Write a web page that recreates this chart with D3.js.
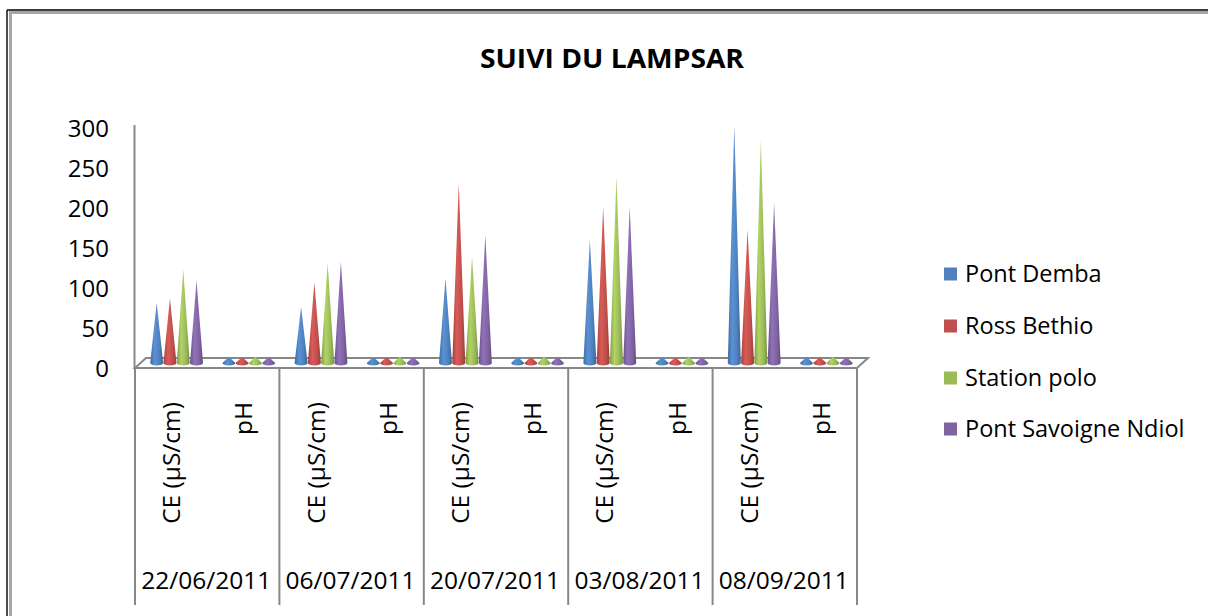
<!DOCTYPE html>
<html>
<head>
<meta charset="utf-8">
<script src="https://cdn.jsdelivr.net/npm/d3@7"></script>
<style>
  html, body { margin: 0; padding: 0; background: #fff; }
  svg { display: block; }
  text { font-family: "Open Sans", "Noto Sans", sans-serif; fill: #000; }
</style>
</head>
<body>
<svg id="chart" width="1208" height="616"></svg>
<script>
// ---- data ----
const dates = ["22/06/2011", "06/07/2011", "20/07/2011", "03/08/2011", "08/09/2011"];
const params = ["CE (µS/cm)", "pH"];
const series = ["Pont Demba", "Ross Bethio", "Station polo", "Pont Savoigne Ndiol"];
const colors = ["#4F81BD", "#C0504D", "#9BBB59", "#8064A2"];
// conductivity per station, one value per date
const cePontDemba   = [75, 70, 106, 154, 297];
const ceRossBethio  = [81, 101, 225, 195, 167];
const ceStationPolo = [117, 125, 133, 233, 278];
const cePontSavoigne = [103, 127, 160, 195, 200];
// pH per station, one value per date
const phPontDemba   = [7.8, 7.6, 7.9, 7.5, 7.7];
const phRossBethio  = [7.5, 7.4, 7.6, 7.3, 7.4];
const phStationPolo = [7.9, 7.8, 8.0, 7.7, 7.8];
const phPontSavoigne = [7.6, 7.5, 7.7, 7.4, 7.6];
const yTicks = [0, 50, 100, 150, 200, 250, 300];

const ceBySeries = [cePontDemba, ceRossBethio, ceStationPolo, cePontSavoigne];
const phBySeries = [phPontDemba, phRossBethio, phStationPolo, phPontSavoigne];

const rows = [];
dates.forEach((d, di) => {
  series.forEach((s, si) => {
    rows.push({ date: d, param: params[0], series: s, si, value: ceBySeries[si][di] });
    rows.push({ date: d, param: params[1], series: s, si, value: phBySeries[si][di] });
  });
});

// ---- layout ----
const svg = d3.select("#chart");
const left = 135, right = 857;
const depthX = 11, depthY = -10;          // offset of the back edge of the floor
const midX = depthX / 2, midY = depthY / 2; // cones stand at mid depth
const gridStroke = "#878787";

const x0 = d3.scaleBand().domain(dates).range([left, right]);
const x1 = d3.scaleBand().domain(params).range([0, x0.bandwidth()]);
const x2 = d3.scaleBand().domain(series).range([0, x1.bandwidth()])
  .paddingInner(0).paddingOuter(0.72);
const y = d3.scaleLinear().domain([0, 300]).range([368, 128]);

// ---- frame ----
svg.append("line").attr("x1", 7).attr("y1", 10).attr("x2", 7).attr("y2", 616)
  .attr("stroke", "#000").attr("stroke-width", 1.4);
svg.append("line").attr("x1", 7).attr("y1", 10).attr("x2", 1208).attr("y2", 10)
  .attr("stroke", "#000").attr("stroke-width", 1.4);
svg.append("line").attr("x1", 10.5).attr("y1", 12.5).attr("x2", 10.5).attr("y2", 616)
  .attr("stroke", "#a6a6a6").attr("stroke-width", 3);
svg.append("line").attr("x1", 9).attr("y1", 12.5).attr("x2", 1208).attr("y2", 12.5)
  .attr("stroke", "#a6a6a6").attr("stroke-width", 3);

// ---- title ----
svg.append("text").attr("x", 612).attr("y", 68).attr("text-anchor", "middle")
  .style("font-weight", "bold").style("font-size", "27px")
  .attr("textLength", 264).attr("lengthAdjust", "spacingAndGlyphs")
  .text("SUIVI DU LAMPSAR");

// ---- gradients for the cones ----
const defs = svg.append("defs");
colors.forEach((c, i) => {
  const g = defs.append("linearGradient").attr("id", "cone" + i)
    .attr("x1", "0%").attr("x2", "100%").attr("y1", "0%").attr("y2", "0%");
  const base = d3.color(c);
  g.append("stop").attr("offset", "0%").attr("stop-color", base.darker(0.5));
  g.append("stop").attr("offset", "35%").attr("stop-color", base.brighter(0.35));
  g.append("stop").attr("offset", "70%").attr("stop-color", base);
  g.append("stop").attr("offset", "100%").attr("stop-color", base.darker(0.7));
});

// ---- value axis ----
svg.append("line").attr("x1", left - 0.5).attr("x2", left - 0.5)
  .attr("y1", y(300) - 3).attr("y2", y(0))
  .attr("stroke", gridStroke).attr("stroke-width", 2);
const yAxis = d3.axisLeft(y).tickValues(yTicks).tickSize(0).tickPadding(0);
const yg = svg.append("g").attr("transform", `translate(109,0)`).call(yAxis);
yg.select(".domain").remove();
yg.selectAll("text").style("font-size", "24px").style("font-family", "'Open Sans', sans-serif")
  .attr("fill", "#000").attr("dy", "0.34em");

// ---- floor ----
const floorPts = [[left, y(0)], [right, y(0)], [right + depthX, y(0) + depthY], [left + depthX, y(0) + depthY]];
svg.append("polygon").attr("points", floorPts.map(p => p.join(",")).join(" "))
  .attr("fill", "#fff").attr("stroke", gridStroke).attr("stroke-width", 2)
  .attr("stroke-linejoin", "miter");

// ---- category axis dividers ----
const dividers = dates.map(d => x0(d)).concat([right]);
svg.selectAll("line.div").data(dividers).join("line").attr("class", "div")
  .attr("x1", d => d).attr("x2", d => d).attr("y1", y(0)).attr("y2", 605)
  .attr("stroke", gridStroke).attr("stroke-width", 2);

// parameter labels, rotated
dates.forEach(d => {
  params.forEach(p => {
    const cx = x0(d) + x1(p) + x1.bandwidth() / 2;
    svg.append("text")
      .attr("transform", `translate(${cx + 9},402) rotate(-90)`)
      .attr("text-anchor", "end").style("font-size", "24.5px")
      .text(p);
  });
  svg.append("text").attr("x", x0(d) + x0.bandwidth() / 2 - 1).attr("y", 589)
    .attr("text-anchor", "middle").style("font-size", "24.5px").text(d);
});

// ---- cones ----
const coneW = x2.bandwidth() * 0.98;
const ry = 2.6;
svg.append("g").selectAll("path").data(rows).join("path")
  .attr("d", r => {
    const cx = x0(r.date) + x1(r.param) + x2(r.series) + x2.bandwidth() / 2 + midX;
    const by = y(0) + midY;
    const ty = y(r.value) + midY;
    const hw = coneW / 2;
    return `M${cx - hw},${by} A${hw},${ry} 0 0 0 ${cx + hw},${by} L${cx},${ty} Z`;
  })
  .attr("fill", r => `url(#cone${r.si})`);

// ---- legend ----
const legend = svg.append("g");
const legY = [274, 326, 378, 429];
series.forEach((s, i) => {
  legend.append("rect").attr("x", 944).attr("y", legY[i] - 6.5).attr("width", 13).attr("height", 13)
    .attr("fill", colors[i]);
  legend.append("text").attr("x", 965).attr("y", legY[i]).attr("dy", "0.35em")
    .style("font-size", "23.5px").text(s);
});
</script>
</body>
</html>
